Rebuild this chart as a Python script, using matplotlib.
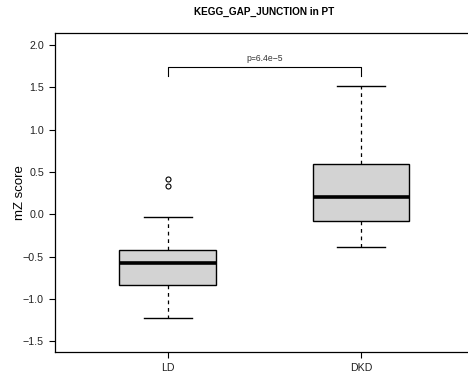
import matplotlib
matplotlib.use("Agg")
from matplotlib import pyplot as plt

plt.rcParams["font.family"] = ["Liberation Sans", "DejaVu Sans"]

groups = ["LD", "DKD"]
medians = [-0.57, 0.205]
q1 = [-0.83, -0.08]
q3 = [-0.42, 0.60]
whisker_low = [-1.22, -0.39]
whisker_high = [-0.03, 1.517]
outliers = [[0.42, 0.335], []]

y_ticks = [-1.5, -1.0, -0.5, 0.0, 0.5, 1.0, 1.5, 2.0]
p_label = "p=6.4e\u22125"
bracket_y = 1.74
bracket_tip = 1.64
title = "KEGG_GAP_JUNCTION in PT"


def main():
    fig = plt.figure(figsize=(4.68, 3.76), dpi=100)
    ax = fig.add_axes([55 / 468, 24.3 / 376, 1 - 55 / 468, 318.4 / 376])

    stats = [
        {
            "label": g,
            "med": medians[i],
            "q1": q1[i],
            "q3": q3[i],
            "whislo": whisker_low[i],
            "whishi": whisker_high[i],
            "fliers": outliers[i],
        }
        for i, g in enumerate(groups)
    ]
    ax.bxp(
        stats,
        positions=[1, 2],
        widths=0.5,
        patch_artist=True,
        boxprops=dict(facecolor="#d3d3d3", edgecolor="black", linewidth=1.0),
        medianprops=dict(color="black", linewidth=2.6, solid_capstyle="butt"),
        whiskerprops=dict(color="black", linewidth=0.9, linestyle=(0, (3, 3))),
        capprops=dict(color="black", linewidth=1.0),
        capwidths=0.25,
        flierprops=dict(marker="o", markersize=3.6, markerfacecolor="none",
                        markeredgecolor="black", markeredgewidth=0.8),
    )

    # significance bracket
    ax.plot([1, 1, 2, 2], [bracket_tip, bracket_y, bracket_y, bracket_tip],
            color="black", linewidth=0.8)
    ax.text(1.5, bracket_y + 0.05, p_label, ha="center", va="bottom",
            fontsize=6.2, color="#333333")

    ax.set_xlim(0.417, 2.553)
    ax.set_ylim(-1.622, 2.14)
    ax.set_yticks(y_ticks)
    ax.set_yticklabels([f"{v:.1f}".replace("-", "\u2212") for v in y_ticks])
    ax.set_xticks([1, 2])
    ax.set_xticklabels(groups)
    ax.tick_params(axis="both", labelsize=7.7, length=4, width=0.8, pad=4,
                   color="black", labelcolor="#222222")
    for side in ["left", "bottom", "top"]:
        ax.spines[side].set_linewidth(0.9)
    ax.spines["right"].set_visible(False)

    ax.set_ylabel("mZ score", fontsize=9.5)
    ax.yaxis.set_label_coords(-(55 - 26) / 413, 0.5)
    fig.text(264 / 468, 1 - 12 / 376, title, ha="center", va="center",
             fontsize=7.2, fontweight="bold")

    fig.savefig("out.png", dpi=100)


if __name__ == "__main__":
    main()
